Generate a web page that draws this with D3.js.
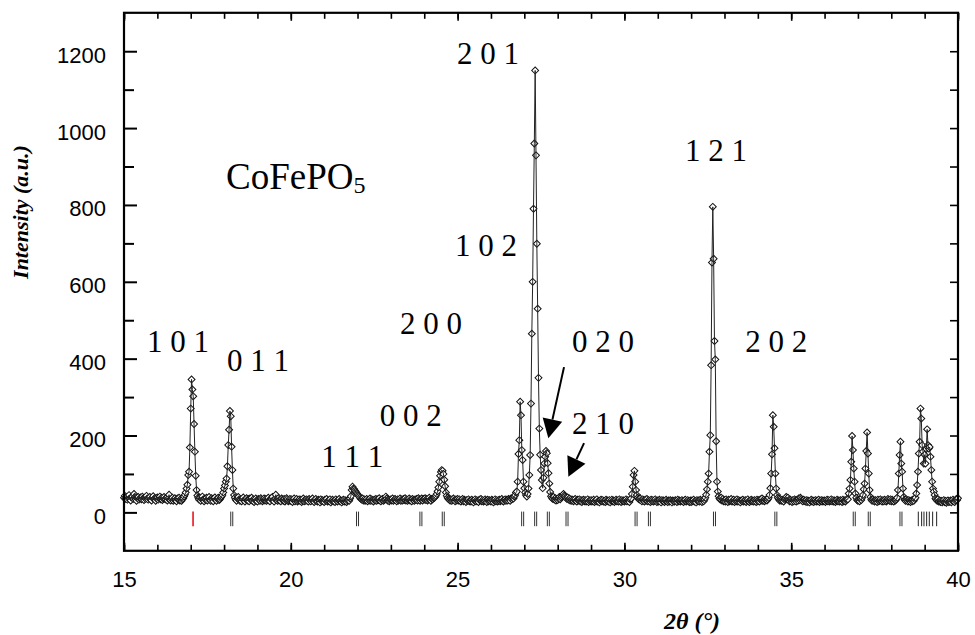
<!DOCTYPE html>
<html>
<head>
<meta charset="utf-8">
<script src="https://cdn.jsdelivr.net/npm/d3@7"></script>
<style>
  body { margin: 0; background: #fff; }
</style>
</head>
<body>
<svg id="chart" width="975" height="635"></svg>
<script>
// observed XRD counts, 15.000 to 40.000 deg 2theta, constant step
const start2theta = 15
const step2theta = 0.025
const counts = [
  // 15
  38,43,35,40,33,37,45,36,31,39, 41,35,48,40,34,30,37,40,33,36, 39,34,41,37,32,38,35,43,36,33, 37,40,34,31,38,42,35,37,30,36,
  // 16
  39,33,37,41,34,38,32,36,40,35, 34,38,31,36,46,33,31,35,38,30, 34,37,32,29,36,33,38,31,35,30, 34,37,41,46,52,62,72,97,106,169,
  // 17
  270,346,320,302,230,158,95,58,44,38, 33,38,30,35,41,34,29,36,32,38, 31,35,40,33,30,37,34,29,36,39, 33,30,35,38,32,34,38,41,45,52,
  // 18
  62,70,80,88,120,175,215,264,250,171, 110,62,45,38,33,30,36,40,34,30, 33,29,35,39,32,28,34,37,31,35, 29,36,33,38,30,34,27,32,36,31,
  // 19
  28,35,33,30,37,34,29,32,36,31, 35,30,33,38,31,29,36,34,40,32, 28,35,46,33,30,37,31,34,29,36, 33,30,35,28,32,37,34,29,31,35,
  // 20
  30,34,27,33,36,29,32,35,28,31, 34,30,33,27,31,36,29,33,30,34, 31,28,35,32,29,33,36,30,27,32, 35,30,28,33,31,26,34,29,32,30,
  // 21
  27,33,30,35,28,31,29,34,26,30, 33,29,31,27,34,30,28,32,35,29, 31,26,30,33,28,32,29,27,31,34, 30,36,42,58,67,62,60,56,53,50,
  // 22
  47,44,41,38,35,33,36,31,34,30, 32,35,29,33,31,36,30,34,32,28, 33,31,35,30,34,32,37,31,29,33, 35,30,32,34,41,36,31,33,29,32,
  // 23
  34,31,36,30,33,35,32,29,34,31, 33,36,30,34,31,35,32,37,31,34, 30,33,36,31,34,29,35,32,30,34, 32,35,31,37,33,30,34,36,31,35,
  // 24
  33,37,32,35,31,34,38,33,30,35, 34,37,38,40,43,48,55,65,80,95, 105,110,108,100,85,68,52,43,38,35, 33,31,34,30,33,36,32,29,34,31,
  // 25
  35,31,34,30,28,32,35,29,33,31, 27,32,30,34,29,31,28,33,30,26, 31,34,29,32,30,27,33,31,35,29, 32,28,30,34,31,27,33,29,32,30,
  // 26
  28,33,31,26,30,34,29,32,28,31, 33,29,31,35,30,28,32,34,30,33, 31,35,33,30,36,34,38,36,41,45, 52,54,80,152,188,288,253,162,136,80,
  // 27
  63,52,45,41,48,62,97,149,283,465, 600,790,960,1150,929,699,530,350,218,150, 110,84,63,90,127,145,160,154,128,102, 75,53,42,38,35,40,33,37,31,35,
  // 28
  32,36,40,34,38,42,45,48,44,41, 38,35,39,33,36,31,34,30,33,29, 32,35,30,28,33,31,34,29,32,27, 31,33,29,32,28,30,34,27,31,29,
  // 29
  32,28,30,33,27,31,29,34,28,30, 26,31,33,29,32,28,30,27,33,29, 31,28,32,26,30,33,29,31,27,30, 33,29,31,28,34,30,27,32,29,31,
  // 30
  28,31,34,29,32,30,27,33,36,48, 67,97,108,80,58,45,38,35,33,36, 32,29,34,31,28,33,30,35,29,32, 30,27,33,29,32,28,31,34,30,27,
  // 31
  31,28,33,30,26,32,29,31,27,30, 33,29,27,31,28,32,30,26,31,29, 28,32,30,27,33,29,31,28,30,32, 29,27,31,33,28,30,32,29,27,31,
  // 32
  27,31,29,33,28,30,26,32,29,31, 28,33,30,27,32,29,33,38,46,60, 80,101,158,201,383,650,795,660,446,398, 185,80,54,42,36,33,38,31,35,29,
  // 33
  32,28,34,30,27,33,29,31,35,28, 30,33,27,31,29,34,28,32,30,26, 31,29,33,28,30,32,27,31,34,29, 27,30,33,29,31,28,32,30,27,33,
  // 34
  29,32,28,34,31,36,30,33,29,32, 33,31,34,38,45,63,101,151,253,223, 167,101,62,45,38,35,31,34,30,33, 31,28,33,36,40,34,38,32,29,33,
  // 35
  30,27,32,29,34,31,28,33,30,36, 32,38,35,31,29,33,30,28,32,27, 31,29,26,30,33,28,31,27,30,32, 28,31,29,33,27,30,32,28,31,29,
  // 36
  31,27,30,33,29,32,28,30,34,29, 32,28,31,27,30,33,29,31,28,32, 30,27,33,29,31,28,32,35,34,49, 62,84,132,199,162,114,80,49,38,32,
  // 37
  30,33,29,35,32,38,45,60,75,114, 160,208,153,101,58,40,33,30,34,31, 28,32,30,27,33,29,31,34,30,28, 32,29,33,30,28,31,35,32,30,34,
  // 38
  29,33,30,28,32,31,34,38,58,101, 149,184,127,106,62,40,33,30,34,31, 28,32,30,27,31,29,33,30,35,38, 49,71,106,153,184,270,244,175,158,127,
  // 39
  150,127,165,216,175,166,170,145,110,80, 62,54,45,36,33,30,34,28,31,27, 30,26,29,32,27,30,25,29,31,27, 28,31,26,30,33,29,27,31,35,32,
  // 40
  37
]

// reflection positions (2theta)
const braggRed = [17.07]
const braggDoublets = [18.20, 21.97, 23.87, 24.54, 26.92, 27.31, 27.69, 28.25, 30.32, 30.72, 32.67, 34.51, 36.86, 37.31, 38.26]
const braggSingles = [38.81, 38.91, 38.98, 39.06, 39.14, 39.24, 39.36]

// hkl labels: text, 2theta, intensity of baseline
const hklText = ['1 0 1', '0 1 1', '1 1 1', '0 0 2', '2 0 0', '2 0 1', '1 0 2', '0 2 0', '2 1 0', '1 2 1', '2 0 2']
const hklTheta = [15.69, 18.09, 20.91, 22.67, 23.27, 24.98, 24.92, 28.43, 28.43, 31.82, 33.62]
const hklInt = [417, 368, 118, 225, 464, 1167, 667, 417, 204, 915, 417]

// arrows: [from 2theta, from I, to 2theta, to I]
const arrows = [[28.19, 378, 27.72, 193], [28.79, 180, 28.32, 93]]

const xMajor = [15, 20, 25, 30, 35, 40]
const yMajor = [0, 200, 400, 600, 800, 1000, 1200]

const svg = d3.select('#chart')

const x = d3.scaleLinear().domain([15, 40]).range([124, 958])
const y = d3.scaleLinear().domain([-100, 1300]).range([550.8, 12.8])

const points = counts.map((c, i) => [start2theta + i * step2theta, c])

// bragg markers
const bragg = svg.append('g')
braggDoublets.forEach(p => {
  [p, p + 0.06].forEach(v => {
    bragg.append('line')
      .attr('x1', x(v)).attr('x2', x(v))
      .attr('y1', y(2)).attr('y2', y(-36))
      .attr('stroke', '#333').attr('stroke-width', 1)
  })
})
braggSingles.forEach(v => {
  bragg.append('line')
    .attr('x1', x(v)).attr('x2', x(v))
    .attr('y1', y(2)).attr('y2', y(-36))
    .attr('stroke', '#222').attr('stroke-width', 1)
})
braggRed.forEach(v => {
  bragg.append('line')
    .attr('x1', x(v)).attr('x2', x(v))
    .attr('y1', y(2)).attr('y2', y(-36))
    .attr('stroke', '#e8141c').attr('stroke-width', 1.6)
})

// observed points
const diamond = d3.symbol(d3.symbolSquare, 24)
svg.append('g')
  .selectAll('path')
  .data(points)
  .join('path')
  .attr('d', diamond)
  .attr('transform', d => `translate(${x(d[0])},${y(d[1])}) rotate(45)`)
  .attr('fill', '#fff')
  .attr('stroke', '#111')
  .attr('stroke-width', 1)

// profile line
svg.append('path')
  .datum(points)
  .attr('fill', 'none')
  .attr('stroke', '#222')
  .attr('stroke-width', 1)
  .attr('d', d3.line().x(d => x(d[0])).y(d => y(d[1])))

// axes, ticks pointing inward
const styleAxis = g => {
  g.select('.domain').remove()
  g.selectAll('line').attr('stroke', '#000').attr('stroke-width', 1.6)
}

svg.append('g')
  .attr('transform', `translate(0,${y(-100)})`)
  .call(d3.axisBottom(x).tickValues(d3.range(15, 41)).tickSize(-6).tickFormat(''))
  .call(styleAxis)
svg.append('g')
  .attr('transform', `translate(0,${y(-100)})`)
  .call(d3.axisBottom(x).tickValues(xMajor).tickSize(-8).tickFormat(d3.format('d')))
  .call(styleAxis)
  .call(g => g.selectAll('text')
    .attr('y', 36).attr('dy', 0)
    .attr('font-family', '"Liberation Sans", Arial, sans-serif')
    .attr('font-size', 22).attr('fill', '#000'))

svg.append('g')
  .attr('transform', `translate(0,${y(1300)})`)
  .call(d3.axisTop(x).tickValues(d3.range(15, 41)).tickSize(-6).tickFormat(''))
  .call(styleAxis)
svg.append('g')
  .attr('transform', `translate(0,${y(1300)})`)
  .call(d3.axisTop(x).tickValues(xMajor).tickSize(-8).tickFormat(''))
  .call(styleAxis)

svg.append('g')
  .attr('transform', `translate(${x(15)},0)`)
  .call(d3.axisLeft(y).tickValues(d3.range(100, 1300, 200)).tickSize(-10).tickFormat(''))
  .call(styleAxis)
  .call(g => g.selectAll('line').attr('stroke-width', 2))
svg.append('g')
  .attr('transform', `translate(${x(15)},0)`)
  .call(d3.axisLeft(y).tickValues(yMajor).tickSize(-13).tickPadding(18).tickFormat(d3.format('d')))
  .call(styleAxis)
  .call(g => g.selectAll('line').attr('stroke-width', 2))
  .call(g => g.selectAll('text')
    .attr('dy', '0.5em')
    .attr('font-family', '"Liberation Sans", Arial, sans-serif')
    .attr('font-size', 22).attr('fill', '#000'))

svg.append('g')
  .attr('transform', `translate(${x(40)},0)`)
  .call(d3.axisRight(y).tickValues(d3.range(0, 1300, 100)).tickSize(-8).tickFormat(''))
  .call(styleAxis)

// frame
svg.append('rect')
  .attr('x', x(15)).attr('y', y(1300))
  .attr('width', x(40) - x(15)).attr('height', y(-100) - y(1300))
  .attr('fill', 'none').attr('stroke', '#000').attr('stroke-width', 2.2)

// axis titles
svg.append('text')
  .attr('transform', `translate(28,212) rotate(-90)`)
  .attr('text-anchor', 'middle')
  .attr('font-family', '"Liberation Serif", "Times New Roman", serif')
  .attr('font-weight', 'bold').attr('font-style', 'italic')
  .attr('font-size', 22)
  .text('Intensity (a.u.)')

svg.append('text')
  .attr('x', 692).attr('y', 629)
  .attr('text-anchor', 'middle')
  .attr('font-family', '"Liberation Serif", "Times New Roman", serif')
  .attr('font-weight', 'bold').attr('font-style', 'italic')
  .attr('font-size', 24)
  .text('2θ (°)')

// compound name
const title = svg.append('text')
  .attr('x', x(18.06)).attr('y', y(842))
  .attr('font-family', '"Liberation Serif", "Times New Roman", serif')
  .attr('font-size', 37)
title.append('tspan').text('CoFePO')
title.append('tspan').attr('font-size', 24).attr('dy', 4).text('5')

// hkl labels
svg.append('g')
  .selectAll('text')
  .data(hklText)
  .join('text')
  .attr('x', (d, i) => x(hklTheta[i]))
  .attr('y', (d, i) => y(hklInt[i]))
  .attr('font-family', '"Liberation Serif", "Times New Roman", serif')
  .attr('font-size', 31)
  .attr('fill', '#000')
  .text(d => d)

// arrows
arrows.forEach(a => {
  const x1 = x(a[0]), y1 = y(a[1]), x2 = x(a[2]), y2 = y(a[3])
  const ang = Math.atan2(y2 - y1, x2 - x1)
  const len = 19, half = 10
  const bx = x2 - len * Math.cos(ang), by = y2 - len * Math.sin(ang)
  svg.append('line')
    .attr('x1', x1).attr('y1', y1).attr('x2', bx).attr('y2', by)
    .attr('stroke', '#000').attr('stroke-width', 2)
  svg.append('path')
    .attr('d', d3.line()([
      [x2, y2],
      [bx + half * Math.sin(ang), by - half * Math.cos(ang)],
      [bx - half * Math.sin(ang), by + half * Math.cos(ang)]
    ]) + 'Z')
    .attr('fill', '#000')
})
</script>
</body>
</html>
